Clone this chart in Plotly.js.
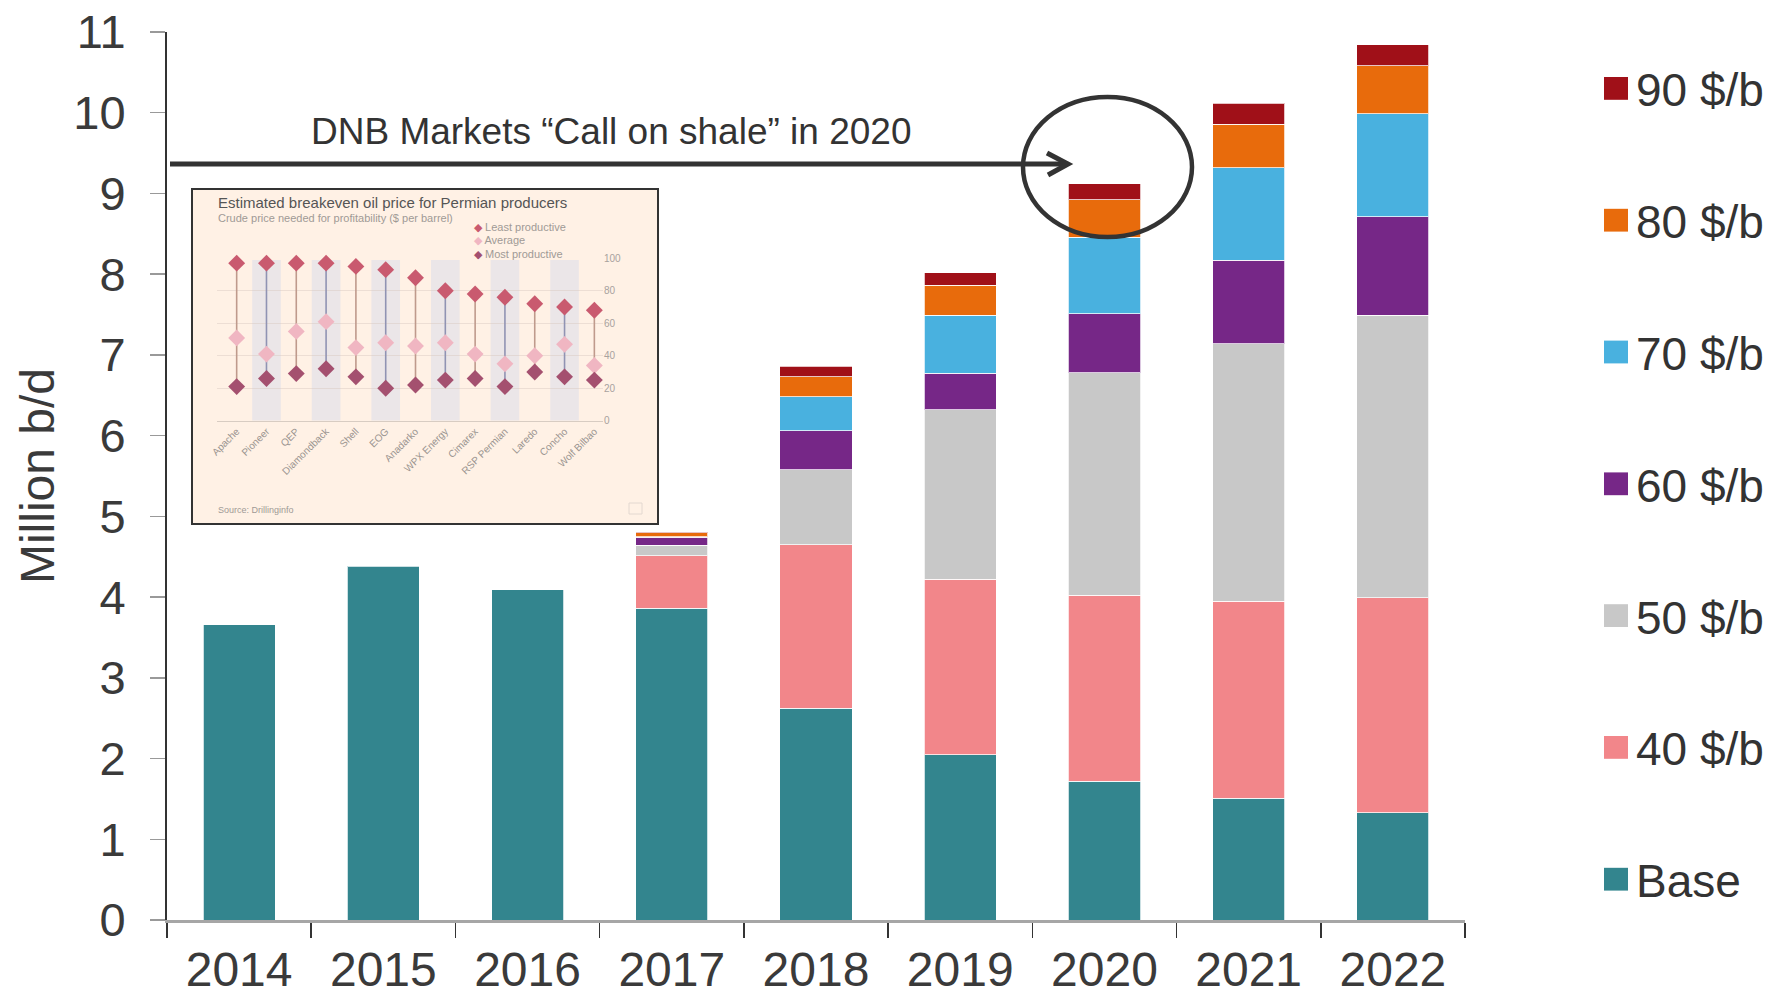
<!DOCTYPE html>
<html>
<head>
<meta charset="utf-8">
<script src="https://cdn.plot.ly/plotly-3.0.1.min.js"></script>
<style>
  html, body { margin: 0; padding: 0; background: #ffffff; }
  #chart { width: 1788px; height: 998px; }
</style>
</head>
<body>
<div id="chart"></div>
<script>
// ---------------- Main chart data ----------------
const years = ['2014', '2015', '2016', '2017', '2018', '2019', '2020', '2021', '2022'];
const baseVals = [3.66, 4.38, 4.09, 3.86, 2.62, 2.05, 1.72, 1.51, 1.33];
const p40Vals  = [null, null, null, 0.65, 2.03, 2.17, 2.30, 2.44, 2.66];
const p50Vals  = [null, null, null, 0.13, 0.93, 2.10, 2.76, 3.19, 3.50];
const p60Vals  = [null, null, null, 0.10, 0.48, 0.45, 0.73, 1.03, 1.22];
const p70Vals  = [null, null, null, 0.01, 0.42, 0.72, 0.95, 1.15, 1.28];
const p80Vals  = [null, null, null, 0.05, 0.25, 0.37, 0.46, 0.54, 0.59];
const p90Vals  = [null, null, null, 0.01, 0.13, 0.16, 0.20, 0.26, 0.26];
const seriesNames = ['Base', '40 $/b', '50 $/b', '60 $/b', '70 $/b', '80 $/b', '90 $/b'];
const yTicks = [0, 1, 2, 3, 4, 5, 6, 7, 8, 9, 10, 11];

// ---------------- Inset chart data ----------------
const producers = ['Apache', 'Pioneer', 'QEP', 'Diamondback', 'Shell', 'EOG', 'Anadarko',
                   'WPX Energy', 'Cimarex', 'RSP Permian', 'Laredo', 'Concho', 'Wolf Bilbao'];
const leastProd = [97, 97, 97, 97, 95, 93, 88, 80, 78, 76, 72, 70, 68];
const avgProd   = [51, 41, 55, 61, 45, 48, 46, 48, 41, 35, 40, 47, 34];
const mostProd  = [21, 26, 29, 32, 27, 20, 22, 25, 26, 21, 30, 27, 25];
const insetTicks = [0, 20, 40, 60, 80, 100];

// ---------------- Styling ----------------
const colors = ['#33858E', '#F2868A', '#C8C8C8', '#762787', '#49B1DF', '#E86B0C', '#A01018'];
const FONT = 'Liberation Sans, Arial, Helvetica, sans-serif';

// plot area in pixels
const L = 167, R = 1465, T = 32, B = 920;
const px = x => (x - L) / (R - L);
const py = y => (B - y) / (B - T);

const allSeries = [baseVals, p40Vals, p50Vals, p60Vals, p70Vals, p80Vals, p90Vals];
const traces = allSeries.map((vals, i) => ({
  type: 'bar',
  x: years,
  y: vals,
  name: seriesNames[i],
  legendgroup: 'g' + i,
  legendrank: 100 - i,
  marker: { color: colors[i], line: { color: 'rgba(255,255,255,0.75)', width: 1 } },
  hoverinfo: 'skip'
}));

// inset traces
const idx = producers.map((_, i) => i);
function segs(odd) {
  const xs = [], ys = [];
  idx.forEach(i => {
    if ((i % 2 === 1) === odd) {
      xs.push(i, i, null);
      ys.push(mostProd[i], leastProd[i], null);
    }
  });
  return { xs, ys };
}
const sEven = segs(false), sOdd = segs(true);
traces.push({
  type: 'scatter', mode: 'lines', x: sEven.xs, y: sEven.ys, xaxis: 'x2', yaxis: 'y2',
  line: { color: '#bf9a8c', width: 1.6 }, showlegend: false, hoverinfo: 'skip', cliponaxis: false
});
traces.push({
  type: 'scatter', mode: 'lines', x: sOdd.xs, y: sOdd.ys, xaxis: 'x2', yaxis: 'y2',
  line: { color: '#9093b3', width: 1.6 }, showlegend: false, hoverinfo: 'skip', cliponaxis: false
});
const insetSeries = [
  { name: 'Least productive', y: leastProd, color: '#C95A6F' },
  { name: 'Average', y: avgProd, color: '#F0B6C2' },
  { name: 'Most productive', y: mostProd, color: '#A4506F' }
];
insetSeries.forEach(s => traces.push({
  type: 'scatter', mode: 'markers', x: idx, y: s.y, xaxis: 'x2', yaxis: 'y2',
  name: s.name, showlegend: false, cliponaxis: false,
  marker: { symbol: 'diamond', size: 13, color: s.color },
  hoverinfo: 'skip'
}));

// shapes
const shapes = [];
// inset background box
shapes.push({
  type: 'rect', xref: 'paper', yref: 'paper', layer: 'below',
  x0: px(192), x1: px(658), y0: py(524), y1: py(189),
  fillcolor: '#FFF1E5', line: { color: '#333333', width: 2 }
});
// alternating bands in the inset
idx.forEach(i => {
  if (i % 2 === 1) {
    shapes.push({
      type: 'rect', xref: 'x2', yref: 'y2', layer: 'below',
      x0: i - 0.48, x1: i + 0.48, y0: 0, y1: 99,
      fillcolor: 'rgba(205,214,238,0.4)', line: { width: 0 }
    });
  }
});
// small icon at bottom right of inset
shapes.push({
  type: 'rect', xref: 'paper', yref: 'paper', layer: 'above',
  x0: px(629), x1: px(642), y0: py(514), y1: py(503),
  fillcolor: 'rgba(0,0,0,0)', line: { color: '#e3d8d0', width: 1 }
});
// arrow
shapes.push({
  type: 'line', xref: 'paper', yref: 'paper',
  x0: px(170), x1: px(1067), y0: py(164), y1: py(164),
  line: { color: '#333333', width: 5 }
});
shapes.push({
  type: 'path', xref: 'paper', yref: 'paper',
  path: `M ${px(1047)} ${py(153)} L ${px(1068)} ${py(164)} L ${px(1048)} ${py(175)}`,
  line: { color: '#333333', width: 5 }
});
// ellipse
shapes.push({
  type: 'circle', xref: 'paper', yref: 'paper',
  x0: px(1023), x1: px(1192), y0: py(237), y1: py(97),
  line: { color: '#333333', width: 4.5 }
});

const annotations = [
  {
    xref: 'paper', yref: 'paper', x: px(611), y: py(132), xanchor: 'center', yanchor: 'middle',
    text: 'DNB Markets \u201cCall on shale\u201d in 2020', showarrow: false,
    font: { family: FONT, size: 37, color: '#333333' }
  },
  {
    xref: 'paper', yref: 'paper', x: px(216), y: py(202), xanchor: 'left', yanchor: 'middle',
    text: 'Estimated breakeven oil price for Permian producers', showarrow: false,
    font: { family: FONT, size: 15, color: '#555555' }
  },
  {
    xref: 'paper', yref: 'paper', x: px(216), y: py(218), xanchor: 'left', yanchor: 'middle',
    text: 'Crude price needed for profitability ($ per barrel)', showarrow: false,
    font: { family: FONT, size: 11, color: '#a09a96' }
  },
  {
    xref: 'paper', yref: 'paper', x: px(216), y: py(510), xanchor: 'left', yanchor: 'middle',
    text: 'Source: Drillinginfo', showarrow: false,
    font: { family: FONT, size: 9, color: '#a09a96' }
  }
];
// inset legend (text entries with coloured diamonds)
const insetLegendY = [227, 240, 254];
insetSeries.forEach((s, i) => annotations.push({
  xref: 'paper', yref: 'paper', x: px(472), y: py(insetLegendY[i]), xanchor: 'left', yanchor: 'middle',
  text: `<span style="color:${s.color}">\u25C6</span> ${s.name}`, showarrow: false,
  font: { family: FONT, size: 11, color: '#a09a96' }
}));

const layout = {
  width: 1788, height: 998,
  margin: { l: L, r: 1788 - R, t: T, b: 998 - B, pad: 0 },
  paper_bgcolor: '#ffffff', plot_bgcolor: 'rgba(0,0,0,0)',
  barmode: 'stack', bargap: 0.5,
  font: { family: FONT, color: '#3a3a3a' },
  showlegend: true,
  xaxis: {
    type: 'category', range: [-0.5, 8.5], fixedrange: true, automargin: false,
    showline: true, linecolor: '#a6a6a6', linewidth: 2.5,
    ticks: 'outside', tickson: 'boundaries', ticklen: 15, tickwidth: 1.5, tickcolor: '#333333',
    tickangle: 0, ticklabelstandoff: 6,
    tickfont: { family: FONT, size: 48, color: '#3a3a3a' },
    showgrid: false, zeroline: false
  },
  yaxis: {
    range: [0, 11], fixedrange: true, tickvals: yTicks, automargin: false,
    showline: true, linecolor: '#333333', linewidth: 2,
    ticks: 'outside', ticklen: 15, tickwidth: 1.5, tickcolor: '#999999',
    ticklabelstandoff: 15,
    tickfont: { family: FONT, size: 47, color: '#3a3a3a' },
    showgrid: false, zeroline: false,
    title: { text: 'Million b/d', font: { family: FONT, size: 48, color: '#3a3a3a' }, standoff: 4 }
  },
  xaxis2: {
    domain: [px(216.7), px(603)], anchor: 'y2', range: [-0.67, 12.29], fixedrange: true,
    automargin: false,
    tickvals: idx, ticktext: producers, tickangle: -45,
    tickfont: { family: FONT, size: 10, color: '#9a9490' },
    showline: true, linecolor: '#d8ccc2', linewidth: 1, ticks: '',
    showgrid: false, zeroline: false
  },
  yaxis2: {
    domain: [py(420.7), py(258.3)], anchor: 'x2', side: 'right', range: [0, 100], fixedrange: true,
    automargin: false,
    tickvals: insetTicks, tickfont: { family: FONT, size: 10, color: '#a8a29e' },
    showline: false, ticks: '', showgrid: true, gridcolor: 'rgba(215,200,190,0.45)', gridwidth: 1,
    zeroline: false
  },
  legend: {
    xref: 'paper', yref: 'paper', x: px(1596), y: py(52),
    xanchor: 'left', yanchor: 'top',
    traceorder: 'grouped', tracegroupgap: 69,
    font: { family: FONT, size: 46, color: '#333333' },
    bgcolor: 'rgba(0,0,0,0)', borderwidth: 0
  },
  shapes: shapes,
  annotations: annotations
};

Plotly.newPlot('chart', traces, layout, { displayModeBar: false, staticPlot: true }).then(gd => {
  // enlarge the main legend colour swatches
  document.querySelectorAll('g.legend .legendpoints path').forEach(p => {
    const t = p.getAttribute('transform') || '';
    p.setAttribute('transform', t + ' scale(2,1.9)');
    p.style.strokeWidth = '0';
  });
});
</script>
</body>
</html>
